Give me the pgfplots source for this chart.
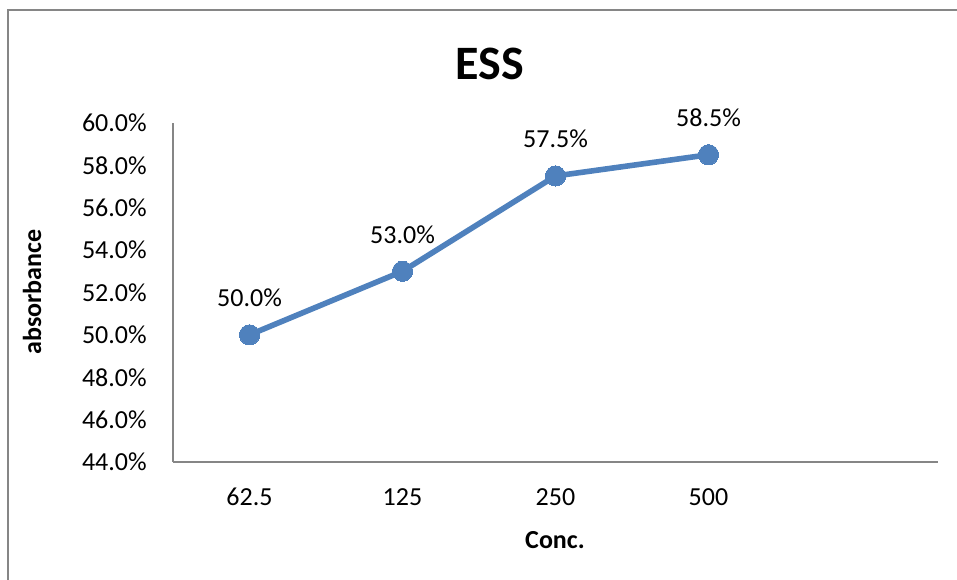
\documentclass[border=0pt]{standalone}
\usepackage{pgfplots}
\pgfplotsset{compat=1.18}
\usepackage{fontspec}
\setmainfont{Carlito}
\definecolor{exblue}{HTML}{4F81BD}
\definecolor{axgray}{HTML}{868686}
\newcommand{\lblfont}{\fontsize{19.5}{23}\selectfont}

\begin{document}
\begin{tikzpicture}[x=0.75pt,y=0.75pt]
\useasboundingbox (0,0) rectangle (957,580);
% chart frame
\draw[axgray, line width=1.2pt] (8,0) -- (8,570) -- (957,570);
\begin{axis}[
  at={(129.75pt,88.5pt)}, anchor=south west,
  width=573.75pt, height=254.25pt, scale only axis,
  xmin=-0.5, xmax=4.5, ymin=44, ymax=60,
  axis lines*=left,
  axis line style={axgray, line width=1.2pt, -},
  major tick length=0pt,
  xtick={0,1,2,3}, xticklabels={62.5,125,250,500},
  ytick={44,46,...,60},
  /pgf/number format/assume math mode=true,
  yticklabel={\pgfmathprintnumber[fixed,fixed zerofill,precision=1]{\tick}\%},
  yticklabel style={font=\lblfont, anchor=east, inner sep=0pt, xshift=-19.5pt},
  xticklabel style={font=\lblfont, anchor=center, inner sep=0pt, yshift=-26.25pt},
  clip=false,
  nodes near coords={\pgfmathprintnumber[fixed,fixed zerofill,precision=1]{\pgfplotspointmeta}\%},
  every node near coord/.append style={font=\lblfont, text=black, inner sep=0pt, yshift=21pt},
]
\addplot[color=exblue, line width=4.2pt, mark=*, mark size=7.6pt,
  mark options={fill=exblue, draw=exblue, line width=0pt}]
  coordinates {(0,50.0) (1,53.0) (2,57.5) (3,58.5)};
\end{axis}
\node[font=\fontsize{36}{40}\selectfont\bfseries] at (490,516) {ESS};
\node[font=\lblfont\bfseries, rotate=90] at (32,288) {absorbance};
\node[font=\lblfont\bfseries] at (555,40) {Conc.};
\end{tikzpicture}
\end{document}
